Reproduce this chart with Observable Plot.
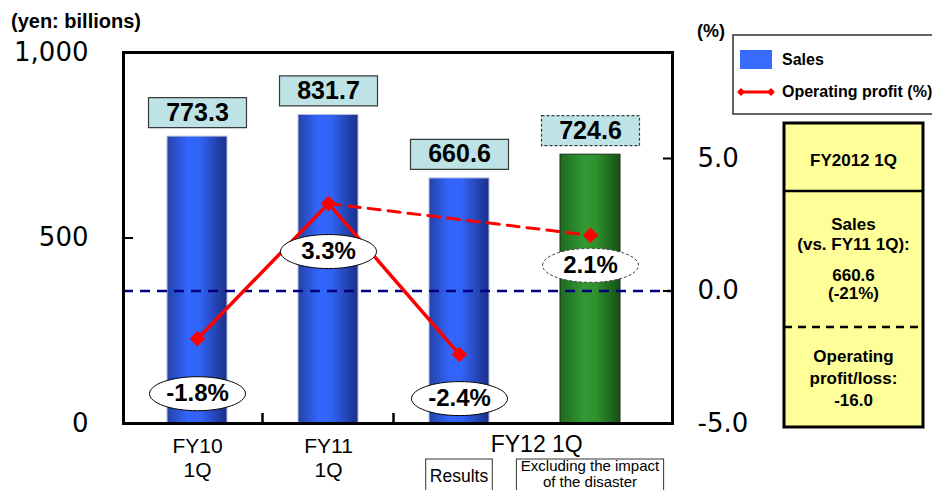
<!DOCTYPE html>
<html>
<head>
<meta charset="utf-8">
<script src="https://cdn.jsdelivr.net/npm/d3@7"></script>
<script src="https://cdn.jsdelivr.net/npm/@observablehq/plot@0.6"></script>
<style>
  html, body { margin: 0; padding: 0; background: #fff; }
  #page { position: relative; width: 932px; height: 490px; overflow: hidden; }
</style>
</head>
<body>
<div id="page"></div>
<script>
// First-quarter sales (yen billions) and operating margin (%)
const periods = ["FY10 1Q", "FY11 1Q", "FY12 1Q Results", "FY12 1Q Excluding disaster"];
const axisLabels = ["FY10\n1Q", "FY11\n1Q", "FY12 1Q", "FY12 1Q"];
const basisLabels = ["", "", "Results", "Excluding the impact\nof the disaster"];
const sales = [773.3, 831.7, 660.6, 724.6];
const operatingMargin = [-1.8, 3.3, -2.4, 2.1];
const excludesDisaster = [false, false, false, true];
const salesTicks = [0, 500, 1000];
const marginTicks = [-5, 0, 5];
const fy12OperatingLoss = -16.0;

// Left axis is sales; the right (%) axis is mapped onto it
const salesDomain = [0, 1000];
const marginDomain = [-5, 9];
const toSalesUnits = p => salesDomain[0] + (p - marginDomain[0]) / (marginDomain[1] - marginDomain[0]) * (salesDomain[1] - salesDomain[0]);
const fromSalesUnits = v => marginDomain[0] + (v - salesDomain[0]) / (salesDomain[1] - salesDomain[0]) * (marginDomain[1] - marginDomain[0]);

// How far each margin label sits below its marker (px)
const marginLabelDrop = [55, 48, 44, 30];

const rows = periods.map((period, i) => ({
  period, sales: sales[i], margin: operatingMargin[i], adjusted: excludesDisaster[i],
  axisLabel: axisLabels[i], basis: basisLabels[i]
}));
const reported = rows.filter(d => !d.adjusted);
const adjustedRows = rows.filter(d => d.adjusted);
const link = [rows[1], ...adjustedRows];
const marginY = d => toSalesUnits(d.margin);

const FONT = '"Liberation Sans", Arial, Helvetica, sans-serif';
const NUMFONT = '"DejaVu Sans", Verdana, sans-serif';

const valueBox = {draw(ctx) { ctx.rect(-49, -15, 98, 30); }};
const ellipse = (rx, ry) => ({draw(ctx) {
  const k = 0.5523, ox = rx * k, oy = ry * k;
  ctx.moveTo(-rx, 0);
  ctx.bezierCurveTo(-rx, -oy, -ox, -ry, 0, -ry);
  ctx.bezierCurveTo(ox, -ry, rx, -oy, rx, 0);
  ctx.bezierCurveTo(rx, oy, ox, ry, 0, ry);
  ctx.bezierCurveTo(-ox, ry, -rx, oy, -rx, 0);
  ctx.closePath();
}});
const oval = ellipse(48, 17);

// periods whose axis label is not shared with a neighbour
const singleLabel = rows.filter(d => axisLabels.filter(l => l === d.axisLabel).length === 1);

const chart = Plot.plot({
  width: 932,
  height: 490,
  marginTop: 52,
  marginRight: 260,
  marginBottom: 67,
  marginLeft: 123,
  style: {fontFamily: FONT, background: "transparent", color: "#000"},
  x: {domain: periods, range: [130, 657], paddingInner: 0.54, paddingOuter: 0.27, axis: null},
  y: {domain: salesDomain, axis: null, label: null},
  marks: [
    Plot.barY(reported, {x: "period", y: "sales", fill: "url(#salesBlue)", stroke: "#b7c2de", strokeWidth: 1}),
    Plot.barY(adjustedRows, {x: "period", y: "sales", fill: "url(#salesGreen)", stroke: "#1d2b1d", strokeWidth: 1}),
    Plot.ruleY([toSalesUnits(0)], {stroke: "#000080", strokeWidth: 2.5, strokeDasharray: "10,7"}),
    Plot.frame({stroke: "#000", strokeWidth: 3}),

    // left axis (sales)
    Plot.axisY(salesTicks, {anchor: "left", tickSize: 0, tickPadding: 35, tickFormat: d3.format(","),
      fontSize: 26, fontFamily: NUMFONT, label: null}),
    Plot.axisY(salesTicks, {anchor: "left", tickSize: -10, tickFormat: () => "", strokeWidth: 2, label: null}),
    // right axis (%)
    Plot.axisY(marginTicks.map(toSalesUnits), {anchor: "right", tickSize: 0, tickPadding: 25,
      tickFormat: v => (Math.round(fromSalesUnits(v) * 10) / 10 + 0).toFixed(1),
      fontSize: 26, fontFamily: NUMFONT, label: null}),
    Plot.axisY(marginTicks.map(toSalesUnits), {anchor: "right", tickSize: -10, tickFormat: () => "", strokeWidth: 2, label: null}),

    // operating margin
    Plot.line(reported, {x: "period", y: marginY, stroke: "#ff0000", strokeWidth: 3.5}),
    Plot.line(link, {x: "period", y: marginY, stroke: "#ff0000", strokeWidth: 3, strokeDasharray: "12,8"}),
    Plot.dot(rows, {x: "period", y: marginY, symbol: "diamond2", r: 7, fill: "#ff0000", stroke: "none"}),

    // sales value labels
    Plot.dot(reported, {x: "period", y: "sales", dy: -24, symbol: valueBox, r: 10, fill: "#bde3e6", stroke: "#3a3a3a", strokeWidth: 1.2}),
    Plot.dot(adjustedRows, {x: "period", y: "sales", dy: -24, symbol: valueBox, r: 10, fill: "#bde3e6", stroke: "#3a3a3a", strokeWidth: 1.2, strokeDasharray: "3,2"}),
    Plot.text(rows, {x: "period", y: "sales", dy: -24, text: d => d.sales.toFixed(1), fontSize: 25, fontWeight: "bold", fill: "#000"}),

    // margin value labels
    ...rows.map((d, i) => Plot.dot([d], {x: "period", y: marginY, dy: marginLabelDrop[i], symbol: oval, r: 10,
      fill: "#fff", stroke: d.adjusted ? "#444" : "#000", strokeWidth: 1, ...(d.adjusted ? {strokeDasharray: "3,2"} : {})})),
    ...rows.map((d, i) => Plot.text([d], {x: "period", y: marginY, dy: marginLabelDrop[i],
      text: r => `${r.margin.toFixed(1)}%`, fontSize: 24, fontWeight: "bold", fill: "#000"})),

    // category labels
    Plot.text(singleLabel, {x: "period", text: "axisLabel", frameAnchor: "bottom", lineAnchor: "top", dy: 12,
      fontSize: 21, lineHeight: 1.15, fill: "#000"})
  ]
});

document.getElementById("page").appendChild(chart);

const svg = d3.select(chart);

// bar gradients
const defs = svg.insert("defs", ":first-child");
const gradient = (id, stops) => {
  const g = defs.append("linearGradient").attr("id", id).attr("x1", 0).attr("x2", 1).attr("y1", 0).attr("y2", 0);
  stops.forEach(([o, c]) => g.append("stop").attr("offset", o).attr("stop-color", c));
};
gradient("salesBlue", [[0, "#2443a8"], [0.35, "#3366ff"], [0.55, "#3163f5"], [1, "#1b2f86"]]);
gradient("salesGreen", [[0, "#1f6a1f"], [0.4, "#339933"], [0.6, "#2f912f"], [1, "#154f15"]]);

// positions from the chart's own x scale
const xs = chart.scale("x");
const bw = xs.bandwidth ?? 0;
const cx = p => xs.apply(p) + bw / 2;
const frameRight = 932 - 260;
const frameBottom = 490 - 67;

const over = svg.append("g").attr("font-family", FONT).attr("fill", "#000").attr("text-anchor", "start");

// category dividers on the bottom axis
const dividers = [];
for (let i = 0; i < rows.length - 1; i++) {
  if (rows[i].axisLabel !== rows[i + 1].axisLabel) dividers.push((cx(rows[i].period) + cx(rows[i + 1].period)) / 2);
}
over.selectAll("line.divider").data(dividers).join("line")
  .attr("x1", d => d).attr("x2", d => d).attr("y1", frameBottom).attr("y2", frameBottom - 10)
  .attr("stroke", "#000").attr("stroke-width", 2.5);

// grouped category label (spans several bars)
const grouped = rows.filter(d => !singleLabel.includes(d));
if (grouped.length) {
  const start = dividers[dividers.length - 1];
  over.append("text").attr("x", (start + frameRight) / 2 + 4).attr("y", 452)
    .attr("text-anchor", "middle").attr("font-size", 23).text(grouped[0].axisLabel);
}

// basis boxes under the grouped bars
grouped.forEach(d => {
  const lines = d.basis.split("\n");
  const g = over.append("g");
  const size = lines.length > 1 ? 15 : 17.5;
  const baselines = lines.length > 1 ? [471, 487] : [482];
  const t = g.append("text").attr("text-anchor", "middle").attr("font-size", size);
  lines.forEach((l, j) => t.append("tspan").attr("x", cx(d.period)).attr("y", baselines[j]).text(l));
  const w = t.node().getBBox().width + 8;
  g.insert("rect", "text").attr("x", cx(d.period) - w / 2).attr("y", 459).attr("width", w).attr("height", 40)
    .attr("fill", "#fff").attr("stroke", "#333").attr("stroke-width", 1);
});

// axis units
over.append("text").attr("x", 11).attr("y", 28).attr("font-size", 20).attr("font-weight", "bold").text("(yen: billions)");
over.append("text").attr("x", 697).attr("y", 37).attr("font-size", 18).attr("font-weight", "bold").text("(%)");

// legend
const legend = over.append("g");
legend.append("rect").attr("x", 733).attr("y", 35).attr("width", 260).attr("height", 79)
  .attr("fill", "#fff").attr("stroke", "#333").attr("stroke-width", 1.5);
legend.append("rect").attr("x", 740).attr("y", 50).attr("width", 32).attr("height", 19).attr("fill", "#3a6bff");
legend.append("text").attr("x", 782).attr("y", 65).attr("font-size", 16).attr("font-weight", "bold").text("Sales");
legend.append("line").attr("x1", 741).attr("x2", 771).attr("y1", 92).attr("y2", 92).attr("stroke", "#ff0000").attr("stroke-width", 3);
[741, 771].forEach(x => legend.append("path").attr("d", d3.symbol(d3.symbolDiamond2, 40)()).attr("transform", `translate(${x},92)`).attr("fill", "#ff0000"));
legend.append("text").attr("x", 782).attr("y", 97).attr("font-size", 16).attr("font-weight", "bold").text("Operating profit (%)");

// FY2012 1Q summary panel
const fy12 = rows[2], fy11 = rows[1];
const change = Math.round((fy12.sales / fy11.sales - 1) * 100);
const panel = over.append("g");
panel.append("rect").attr("x", 784).attr("y", 123).attr("width", 139).attr("height", 304)
  .attr("fill", "#ffff99").attr("stroke", "#000").attr("stroke-width", 3);
panel.append("line").attr("x1", 784).attr("x2", 923).attr("y1", 191).attr("y2", 191).attr("stroke", "#000").attr("stroke-width", 2.5);
panel.append("line").attr("x1", 784).attr("x2", 923).attr("y1", 327).attr("y2", 327).attr("stroke", "#000").attr("stroke-width", 2.5).attr("stroke-dasharray", "8,6");
const panelLines = [
  ["FY2012 1Q", 166],
  ["Sales", 230],
  ["(vs. FY11 1Q):", 250],
  [fy12.sales.toFixed(1), 281],
  [`(${change}%)`, 299],
  ["Operating", 362],
  ["profit/loss:", 384],
  [fy12OperatingLoss.toFixed(1), 406]
];
panel.selectAll("text").data(panelLines).join("text")
  .attr("x", 853.5).attr("y", d => d[1]).attr("text-anchor", "middle")
  .attr("font-size", 17).attr("font-weight", "bold").text(d => d[0]);
</script>
</body>
</html>
